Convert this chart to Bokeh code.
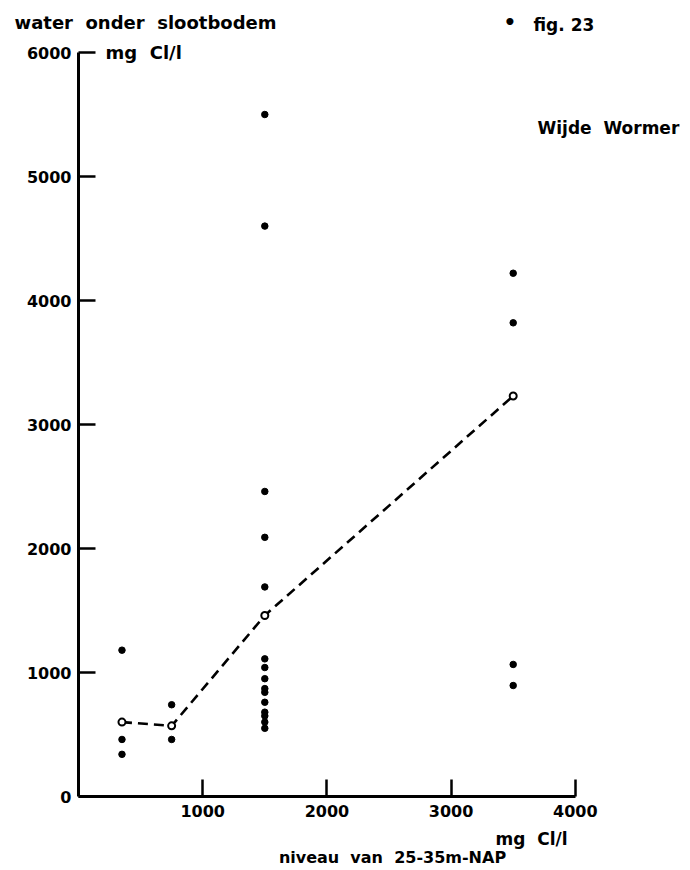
from bokeh.plotting import figure
from bokeh.models import Range1d, FixedTicker, Label
from bokeh.embed import file_html
from bokeh.resources import INLINE

# Chloride at 25-35 m below NAP (x) vs. water under the ditch bottom (y), mg Cl/l
level_350 = [1180, 460, 340]
level_750 = [740, 460]
level_1500 = [5500, 4600, 2460, 2090, 1690, 1110, 1040, 950, 870, 840, 760, 680, 650, 600, 550]
level_3500 = [4220, 3820, 1065, 895]
levels = [350, 750, 1500, 3500]
groups = [level_350, level_750, level_1500, level_3500]

# group averages (open circles joined by the dashed line)
avg_x = [350, 750, 1500, 3500]
avg_y = [600, 570, 1460, 3230]

x_ticks = [1000, 2000, 3000, 4000]
y_ticks = [0, 1000, 2000, 3000, 4000, 5000, 6000]

W, H = 690, 870
ORIGIN_X, ORIGIN_Y = 78, 796   # canvas pixel of the (0, 0) corner
PX_X = 0.1242   # px per mg/l horizontally
PX_Y = 0.1240   # px per mg/l vertically

FONT = "DejaVu Sans"
SP = "\u00a0"  # wide word gaps of the lettering

p = figure(width=W, height=H, output_backend="svg", toolbar_location=None,
           x_range=Range1d(-ORIGIN_X / PX_X, (W - ORIGIN_X) / PX_X),
           y_range=Range1d(-(H - ORIGIN_Y) / PX_Y, ORIGIN_Y / PX_Y),
           min_border=0)
p.outline_line_color = None
p.xgrid.visible = False
p.ygrid.visible = False
p.background_fill_color = "white"
p.border_fill_color = "white"

for ax, ticks, bounds in ((p.xaxis[0], x_ticks, (0, 4000)), (p.yaxis[0], y_ticks, (0, 6000))):
    ax.fixed_location = 0
    ax.ticker = FixedTicker(ticks=ticks)
    ax.bounds = bounds
    ax.axis_line_width = 3
    ax.axis_line_color = "black"
    ax.major_tick_line_width = 2.5
    ax.major_tick_line_color = "black"
    ax.major_tick_in = 17
    ax.major_tick_out = 0
    ax.minor_tick_line_color = None
    ax.major_label_text_font = FONT
    ax.major_label_text_font_style = "bold"
    ax.major_label_text_font_size = "16px"
    ax.major_label_text_color = "black"
p.yaxis[0].major_label_standoff = 7
p.xaxis[0].major_label_standoff = 8


def dx(px):
    return (px - ORIGIN_X) / PX_X


def dy(py):
    return (ORIGIN_Y - py) / PX_Y


# dashed line through group averages
p.line(avg_x, avg_y, line_color="black", line_width=2.6, line_dash="10 6")

# individual samples
for lvl, vals in zip(levels, groups):
    p.scatter([lvl] * len(vals), vals, size=6.5, fill_color="black", line_color="black")

# averages as open circles
p.scatter(avg_x, avg_y, size=7, fill_color="white", line_color="black", line_width=2)


def add_text(txt, px, py, size, align="left"):
    p.add_layout(Label(x=dx(px), y=dy(py), text=txt, text_font=FONT, text_font_style="bold",
                       text_font_size=size, text_color="black", text_align=align,
                       text_baseline="middle"))


add_text("water" + SP + " onder" + SP + " slootbodem", 14, 22, "18px")
add_text("mg" + SP + " Cl/l", 105, 52, "18px")
add_text("•", 503, 21, "20px")
add_text("fig. 23", 533, 24, "17px")
add_text("Wijde" + SP + " Wormer", 537, 127, "17px")
add_text("mg" + SP + " Cl/l", 495, 838, "17px")
add_text("niveau" + SP + " van" + SP + " 25-35m-NAP", 392, 857, "16px", align="center")

open("out.html", "w").write(file_html(p, INLINE))
